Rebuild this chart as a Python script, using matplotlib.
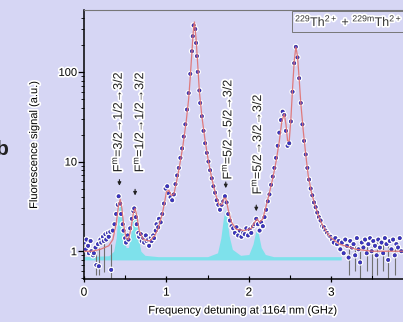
import matplotlib
matplotlib.use("Agg")
import matplotlib.pyplot as plt
import matplotlib.patheffects as pe
import numpy as np

plt.rcParams['font.family'] = ['Liberation Sans', 'DejaVu Sans']
plt.rcParams['mathtext.fontset'] = 'custom'
plt.rcParams['mathtext.rm'] = 'Liberation Sans'
plt.rcParams['mathtext.it'] = 'Liberation Sans'

# measured spectrum (GHz, a.u.)
spectrum = [
    (0.00, 1.25), (0.02, 1.05), (0.03, 1.35), (0.05, 1.15), (0.06, 0.95), (0.08, 1.3),
    (0.09, 1.0), (0.11, 0.9), (0.12, 0.95), (0.14, 1.1), (0.15, 0.7), (0.17, 1.2),
    (0.18, 0.68), (0.20, 1.35), (0.21, 1.25), (0.23, 1.45), (0.24, 1.3), (0.26, 1.55),
    (0.27, 1.35), (0.29, 1.6), (0.30, 1.45), (0.32, 1.65), (0.33, 0.62), (0.35, 1.7),
    (0.37, 2.0), (0.39, 2.6), (0.41, 3.3), (0.42, 4.1), (0.44, 3.4), (0.45, 2.6),
    (0.47, 2.0), (0.48, 1.7), (0.50, 1.4), (0.51, 1.25), (0.53, 1.5), (0.54, 1.35),
    (0.56, 1.8), (0.58, 2.3), (0.60, 2.8), (0.61, 3.0), (0.63, 2.4), (0.64, 2.0),
    (0.66, 1.6), (0.67, 1.45), (0.69, 1.55), (0.70, 1.3), (0.72, 1.4), (0.73, 1.25),
    (0.75, 1.5), (0.76, 1.3), (0.78, 1.35), (0.79, 1.15), (0.81, 1.4), (0.82, 1.3),
    (0.84, 1.5), (0.85, 1.4), (0.87, 1.7), (0.88, 2.0), (0.90, 1.85), (0.91, 2.3),
    (0.93, 2.1), (0.95, 2.6), (0.97, 3.4), (0.99, 5.0), (1.01, 5.3), (1.03, 4.4),
    (1.05, 4.0), (1.07, 3.7), (1.09, 4.3), (1.11, 5.6), (1.13, 7.0), (1.15, 8.5),
    (1.17, 11), (1.19, 14), (1.21, 19), (1.23, 26), (1.25, 38), (1.27, 58),
    (1.29, 95), (1.31, 170), (1.32, 250), (1.33, 330), (1.35, 300), (1.36, 210),
    (1.37, 150), (1.38, 100), (1.40, 62), (1.41, 45), (1.43, 32), (1.45, 22),
    (1.47, 16), (1.49, 12.5), (1.51, 10), (1.53, 8), (1.55, 6.5), (1.57, 5.3),
    (1.59, 4.5), (1.61, 3.7), (1.63, 3.3), (1.65, 2.9), (1.67, 3.3), (1.69, 3.6),
    (1.71, 4.1), (1.73, 3.5), (1.75, 2.6), (1.77, 2.2), (1.79, 1.9), (1.81, 1.8),
    (1.83, 1.6), (1.85, 1.85), (1.87, 1.5), (1.89, 1.7), (1.91, 1.45), (1.93, 1.6),
    (1.95, 1.55), (1.97, 1.8), (1.99, 1.5), (2.01, 1.75), (2.03, 1.6), (2.05, 1.9),
    (2.07, 2.0), (2.09, 2.3), (2.11, 2.0), (2.13, 1.7), (2.15, 2.1), (2.17, 1.9),
    (2.19, 2.4), (2.21, 2.9), (2.23, 3.6), (2.25, 4.3), (2.27, 5.5), (2.29, 6.8),
    (2.31, 8.5), (2.33, 11), (2.35, 15), (2.37, 21), (2.39, 29), (2.41, 36),
    (2.43, 33), (2.45, 22), (2.47, 15), (2.49, 16), (2.51, 28), (2.53, 60),
    (2.55, 125), (2.57, 190), (2.59, 145), (2.61, 85), (2.63, 45), (2.65, 26),
    (2.67, 17), (2.69, 12), (2.71, 8.5), (2.73, 6.3), (2.75, 5.0), (2.77, 4.2),
    (2.79, 3.5), (2.81, 3.1), (2.83, 2.7), (2.85, 2.4), (2.87, 2.2), (2.89, 1.9),
    (2.91, 1.85), (2.93, 1.7), (2.95, 1.6), (2.97, 1.5), (2.99, 1.45), (3.01, 1.35),
    (3.03, 1.25), (3.05, 1.4), (3.07, 1.2), (3.09, 1.3), (3.11, 1.05), (3.13, 1.25),
    (3.15, 0.95), (3.17, 1.35), (3.19, 1.15), (3.21, 0.85), (3.23, 1.3), (3.25, 1.1),
    (3.27, 1.2), (3.29, 0.9), (3.31, 1.4), (3.33, 1.05), (3.35, 0.75), (3.37, 1.25),
    (3.39, 1.1), (3.41, 1.35), (3.43, 0.95), (3.45, 1.2), (3.47, 1.4), (3.49, 1.0),
    (3.51, 1.3), (3.53, 1.15), (3.55, 0.9), (3.57, 1.35), (3.59, 1.1), (3.61, 1.25),
    (3.63, 0.95), (3.65, 1.4), (3.67, 1.2), (3.69, 0.8), (3.71, 1.3), (3.73, 1.05),
    (3.75, 1.35), (3.77, 0.9), (3.79, 1.2), (3.81, 1.1), (3.83, 1.4), (3.85, 1.0),
]
freq, signal = np.array(spectrum).T

# fit curve
fit_x = [0.0, 0.1, 0.2, 0.3, 0.35, 0.39, 0.42, 0.44, 0.46, 0.48, 0.51, 0.54, 0.57,
         0.60, 0.62, 0.64, 0.67, 0.72, 0.8, 0.86, 0.9, 0.95, 0.98, 1.0, 1.03, 1.06,
         1.09, 1.12, 1.16, 1.2, 1.24, 1.27, 1.29, 1.31, 1.33, 1.34, 1.36, 1.38, 1.40,
         1.43, 1.47, 1.51, 1.55, 1.6, 1.64, 1.67, 1.70, 1.72, 1.75, 1.79, 1.85, 1.95,
         2.03, 2.07, 2.10, 2.13, 2.17, 2.21, 2.25, 2.29, 2.33, 2.37, 2.40, 2.43, 2.45,
         2.47, 2.49, 2.51, 2.53, 2.55, 2.57, 2.59, 2.61, 2.63, 2.66, 2.69, 2.72, 2.76,
         2.8, 2.85, 2.9, 2.95, 3.0, 3.1, 3.3, 3.5, 3.87]
fit_y = [1.0, 1.0, 1.05, 1.15, 1.35, 2.0, 3.3, 3.8, 3.0, 2.0, 1.4, 1.35, 1.8,
         2.7, 3.0, 2.5, 1.7, 1.35, 1.3, 1.5, 1.8, 2.6, 3.6, 4.6, 4.8, 4.2,
         4.3, 5.8, 9, 15, 28, 50, 90, 170, 320, 360, 230, 120, 60,
         32, 17, 10, 6.5, 4.2, 3.3, 3.3, 3.9, 3.9, 2.9, 2.1, 1.75, 1.7,
         1.8, 2.1, 2.3, 2.1, 2.3, 3.2, 4.5, 6.5, 10, 17, 28, 34, 26,
         17, 17, 30, 65, 130, 190, 150, 85, 45, 22, 12, 7, 4.5,
         3.3, 2.4, 1.9, 1.6, 1.4, 1.2, 1.05, 1.0, 1.0]

# 229m components (cyan)
comp_x = [0.0, 0.30, 0.36, 0.39, 0.41, 0.43, 0.44, 0.46, 0.48, 0.51, 0.54, 0.57, 0.60,
          0.62, 0.64, 0.66, 0.69, 0.74, 0.9, 1.5, 1.62, 1.66, 1.69, 1.71, 1.73, 1.76,
          1.8, 1.9, 2.0, 2.05, 2.08, 2.10, 2.12, 2.15, 2.2, 2.3, 3.12]
comp_y = [0.87, 0.89, 1.0, 1.4, 2.4, 3.6, 3.8, 2.6, 1.6, 1.1, 1.1, 1.6, 2.6,
          2.9, 2.2, 1.4, 1.0, 0.9, 0.87, 0.87, 0.96, 1.4, 2.3, 2.9, 2.5, 1.5,
          1.05, 0.9, 0.92, 1.2, 1.6, 1.8, 1.5, 1.1, 0.92, 0.87, 0.87]

err_x = [0.15, 0.18, 0.24, 0.33, 3.21, 3.29, 3.35, 3.43, 3.49, 3.55, 3.63, 3.69, 3.77]
err_lo = [0.55, 0.55, 0.58, 0.5, 0.55, 0.6, 0.5, 0.6, 0.55, 0.55, 0.6, 0.5, 0.55]
err_hi = [1.0, 1.1, 1.6, 1.2, 1.3, 1.2, 1.1, 1.3, 1.4, 1.3, 1.3, 1.2, 1.3]

labels = [r"F$^\mathrm{m}$=3/2→1/2→3/2", r"F$^\mathrm{m}$=1/2→1/2→3/2",
          r"F$^\mathrm{m}$=5/2→5/2→3/2", r"F$^\mathrm{m}$=5/2→3/2→3/2"]
label_x = [0.41, 0.67, 1.74, 2.10]
label_y = [7.6, 7.6, 6.3, 4.3]
arrow_x = [0.43, 0.62, 1.72, 2.09]
arrow_y = [5.0, 3.9, 4.7, 2.6]

bg = '#d6d6f4'
halo = [pe.withStroke(linewidth=2.5, foreground='white')]

fig = plt.figure(figsize=(4.03, 3.22), dpi=100, facecolor=bg)
ax = fig.add_axes([0.2084, 0.1335, 0.7916, 0.8355], facecolor=bg)

ax.fill_between(comp_x, 0.80, comp_y, color='#6fe3ea', alpha=0.85, lw=0, zorder=1)
ax.vlines(err_x, err_lo, err_hi, color='#707070', lw=0.8, zorder=2)
ax.plot(freq, signal, 'o', ms=2.4, mfc='#3a35c8', mec='#231c86', mew=0.4,
        path_effects=[pe.withStroke(linewidth=2.2, foreground='white')], zorder=3)
ax.plot(fit_x, fit_y, '-', color='#e07070', lw=0.9, alpha=0.9, zorder=4)

for lab, lx, ly in zip(labels, label_x, label_y):
    ax.text(lx, ly, lab, rotation=90, ha='center', va='bottom', fontsize=9,
            color='#222222', path_effects=halo)
for axx, ayy in zip(arrow_x, arrow_y):
    ax.annotate('', xy=(axx, ayy), xytext=(axx, ayy * 1.35),
                arrowprops=dict(arrowstyle='-|>', color='#222222', lw=0.8,
                                mutation_scale=5))

ax.set_yscale('log')
ax.set_xlim(0, 3.87)
ax.set_ylim(0.49, 490)
ax.set_xticks([0, 1, 2, 3])
ax.set_xticks([0.5, 1.5, 2.5, 3.5], minor=True)
ax.set_yticks([1, 10, 100])
ax.set_yticklabels(['1', '10', '100'])
ax.tick_params(axis='x', which='major', direction='inout', length=5, width=0.9,
               labelsize=8.5, pad=3)
ax.tick_params(axis='x', which='minor', direction='in', length=3, width=0.8)
ax.tick_params(axis='y', which='major', direction='out', length=4, width=0.9,
               labelsize=8, pad=1)
ax.tick_params(axis='y', which='minor', direction='out', length=2, width=0.6)
for lab in ax.get_xticklabels() + ax.get_yticklabels():
    lab.set_path_effects(halo)

ax.spines['right'].set_visible(False)
ax.spines['left'].set_linewidth(1.1)
ax.spines['bottom'].set_linewidth(1.1)
ax.spines['top'].set_color('#777777')

ax.set_xlabel('Frequency detuning at 1164 nm (GHz)', fontsize=8, labelpad=5,
              path_effects=halo)
ax.set_ylabel('Fluorescence signal (a.u.)', fontsize=8, labelpad=14,
              path_effects=halo)

fig.text(0.732, 0.91, r"$^{229}$Th$^{2+}$ + $^{229m}$Th$^{2+}$", fontsize=9,
         color='#333333', ha='left', va='bottom', path_effects=halo,
         bbox=dict(boxstyle='square,pad=0.25', fc=bg, ec='#777777', lw=0.7))
fig.text(-0.012, 0.52, 'b', fontsize=15, fontweight='bold', color='#222222')

fig.savefig('out.png', dpi=100, facecolor=bg)
